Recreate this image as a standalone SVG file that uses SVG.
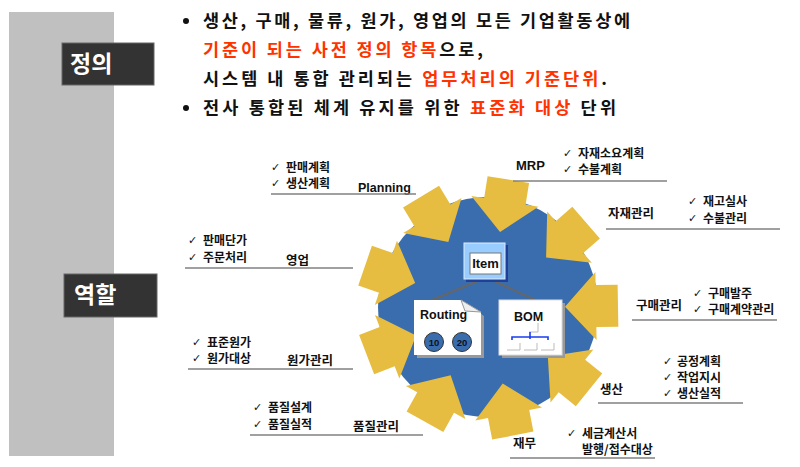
<svg xmlns="http://www.w3.org/2000/svg" xmlns:xlink="http://www.w3.org/1999/xlink" width="800" height="467" viewBox="0 0 800 467">
<style>
.k{font-family:"Noto Sans CJK KR","Noto Sans",sans-serif;font-weight:bold;fill:#111}
.top{font-size:17.5px}
.lbl{font-size:12.5px}
.li{font-size:12px}
.red{fill:#FF3300}
.en{font-family:"Liberation Sans",Arial,sans-serif;font-weight:bold;fill:#111}
.chk{font-family:"DejaVu Sans",sans-serif;font-size:11px;fill:#111}
.ul{stroke:#808080;stroke-width:1.5}
.arr{fill:#E6BD40}
.tag{fill:#333;stroke:#666;stroke-width:1}
.tagt{font-family:"Noto Sans CJK KR",sans-serif;font-weight:bold;font-size:23px;fill:#fff}
</style>
<defs>
<polygon id="arrow" points="130,-21 108,-21 108,-34 77,0 108,34 108,21 130,21"/>
</defs>
<rect width="800" height="467" fill="#fff"/>
<rect id="sidebar" x="9" y="12" width="105" height="444" fill="#C0C0C0"/>
<g id="tag-def"><rect class="tag" x="62" y="43" width="92" height="42"/><text class="tagt" x="70" y="72">정의</text></g>
<g id="tag-role"><rect class="tag" x="64" y="274" width="93" height="43"/><text class="tagt" x="74" y="303">역할</text></g>

<g id="definition">
<circle cx="186" cy="21" r="3" fill="#111"/>
<text class="k top" x="203" y="27" textLength="427" lengthAdjust="spacing">생산, 구매, 물류, 원가, 영업의 모든 기업활동상에</text>
<text class="k top" x="203" y="56" textLength="280" lengthAdjust="spacing"><tspan class="red">기준이 되는 사전 정의 항목</tspan>으로,</text>
<text class="k top" x="203" y="85" textLength="404" lengthAdjust="spacing">시스템 내 통합 관리되는 <tspan class="red">업무처리의 기준단위</tspan>.</text>
<circle cx="186" cy="108" r="3" fill="#111"/>
<text class="k top" x="203" y="114" textLength="413" lengthAdjust="spacing">전사 통합된 체계 유지를 위한 <tspan class="red">표준화 대상</tspan> 단위</text>
</g>

<g id="hub">
<circle cx="488" cy="307" r="110" fill="#3A6DAE"/>
<g transform="translate(488,308)">
<use class="arr" xlink:href="#arrow" href="#arrow" transform="rotate(-161)"/>
<use class="arr" xlink:href="#arrow" href="#arrow" transform="rotate(-121)"/>
<use class="arr" xlink:href="#arrow" href="#arrow" transform="rotate(-81)"/>
<use class="arr" xlink:href="#arrow" href="#arrow" transform="rotate(-41)"/>
<use class="arr" xlink:href="#arrow" href="#arrow" transform="rotate(-1)"/>
<use class="arr" xlink:href="#arrow" href="#arrow" transform="rotate(39)"/>
<use class="arr" xlink:href="#arrow" href="#arrow" transform="rotate(79)"/>
<use class="arr" xlink:href="#arrow" href="#arrow" transform="rotate(119)"/>
<use class="arr" xlink:href="#arrow" href="#arrow" transform="rotate(159)"/>
</g>
</g>

<g id="connectors">
<line x1="478" y1="281" x2="432" y2="300" stroke="#666" stroke-width="2"/>
<line x1="494" y1="281" x2="535" y2="300" stroke="#666" stroke-width="2"/>
</g>

<g id="item">
<rect x="466" y="245" width="42" height="37" fill="#1F3F99"/>
<rect x="464" y="243" width="41" height="36" fill="#99CCFF" stroke="#DDEEFF" stroke-width="1"/>
<rect x="470" y="253" width="31" height="21" fill="#fff" stroke="#777" stroke-width="1"/>
<text class="en" x="485.5" y="268" font-size="13" text-anchor="middle">Item</text>
</g>

<g id="routing">
<polygon points="417,303 465,303 484,316 484,358 417,358" fill="#999"/>
<polygon points="414,300 461,300 481,312 481,355 414,355" fill="#fff"/>
<polygon points="461,300 465,311 481,312" fill="#eee" stroke="#999" stroke-width="1"/>
<text class="en" x="420" y="319" font-size="12.5">Routing</text>
<circle cx="434" cy="342" r="9.5" fill="#3A6DAE" stroke="#333" stroke-width="1"/>
<circle cx="462" cy="342" r="9.5" fill="#3A6DAE" stroke="#333" stroke-width="1"/>
<text class="en" x="434" y="345.5" font-size="9.5" text-anchor="middle">10</text>
<text class="en" x="462" y="345.5" font-size="9.5" text-anchor="middle">20</text>
</g>

<g id="bom">
<rect x="502" y="303" width="63" height="55" fill="#999"/>
<rect x="499" y="300" width="63" height="55" fill="#fff" stroke="#ddd" stroke-width="1"/>
<text class="en" x="528.5" y="321" font-size="12.5" text-anchor="middle">BOM</text>
<polyline points="529,332 538,332 538,323" fill="none" stroke="#bbb" stroke-width="1"/>
<polyline points="512,340 512,337 548,337 548,340" fill="none" stroke="#1a3cf0" stroke-width="1.6"/>
<line x1="530" y1="332" x2="530" y2="339" stroke="#1a3cf0" stroke-width="1.6"/>
<polyline points="507,350 520,350 520,343" fill="none" stroke="#bbb" stroke-width="1"/>
<polyline points="524,350 537,350 537,343" fill="none" stroke="#bbb" stroke-width="1"/>
<polyline points="541,350 554,350 554,343" fill="none" stroke="#bbb" stroke-width="1"/>
</g>

<g id="planning">
<text class="chk" x="271" y="171">✓</text><text class="k li" x="286" y="172">판매계획</text>
<text class="chk" x="271" y="187">✓</text><text class="k li" x="286" y="188">생산계획</text>
<text class="en" x="358" y="192" font-size="12.5">Planning</text>
<line class="ul" x1="271" y1="194" x2="416" y2="194"/>
</g>

<g id="sales">
<text class="chk" x="188" y="244">✓</text><text class="k li" x="203" y="245">판매단가</text>
<text class="chk" x="188" y="261">✓</text><text class="k li" x="203" y="262">주문처리</text>
<text class="k lbl" x="286" y="265">영업</text>
<line class="ul" x1="185" y1="268" x2="353" y2="268"/>
</g>

<g id="cost">
<text class="chk" x="192" y="346">✓</text><text class="k li" x="207" y="347">표준원가</text>
<text class="chk" x="192" y="362">✓</text><text class="k li" x="207" y="363">원가대상</text>
<text class="k lbl" x="287" y="365">원가관리</text>
<line class="ul" x1="188" y1="369" x2="353" y2="369"/>
</g>

<g id="quality">
<text class="chk" x="253" y="411">✓</text><text class="k li" x="268" y="412">품질설계</text>
<text class="chk" x="253" y="428">✓</text><text class="k li" x="268" y="429">품질실적</text>
<text class="k lbl" x="353" y="431">품질관리</text>
<line class="ul" x1="250" y1="435" x2="423" y2="435"/>
</g>

<g id="mrp">
<text class="en" x="516" y="170" font-size="13">MRP</text>
<text class="chk" x="563" y="157">✓</text><text class="k li" x="578" y="158">자재소요계획</text>
<text class="chk" x="563" y="173">✓</text><text class="k li" x="578" y="174">수불계획</text>
<line class="ul" x1="513" y1="181" x2="667" y2="181"/>
</g>

<g id="material">
<text class="k lbl" x="608" y="218">자재관리</text>
<text class="chk" x="688" y="205">✓</text><text class="k li" x="703" y="206">재고실사</text>
<text class="chk" x="688" y="222">✓</text><text class="k li" x="703" y="223">수불관리</text>
<line class="ul" x1="606" y1="229" x2="780" y2="229"/>
</g>

<g id="purchase">
<text class="k lbl" x="636" y="310">구매관리</text>
<text class="chk" x="693" y="297">✓</text><text class="k li" x="708" y="298">구매발주</text>
<text class="chk" x="693" y="313">✓</text><text class="k li" x="708" y="314">구매계약관리</text>
<line class="ul" x1="632" y1="320" x2="777" y2="320"/>
</g>

<g id="production">
<text class="k lbl" x="600" y="394">생산</text>
<text class="chk" x="663" y="365">✓</text><text class="k li" x="677" y="366">공정계획</text>
<text class="chk" x="663" y="381">✓</text><text class="k li" x="677" y="382">작업지시</text>
<text class="chk" x="663" y="397">✓</text><text class="k li" x="677" y="398">생산실적</text>
<line class="ul" x1="598" y1="403" x2="743" y2="403"/>
</g>

<g id="finance">
<text class="k lbl" x="513" y="448">재무</text>
<text class="chk" x="567" y="437">✓</text><text class="k li" x="582" y="438">세금계산서</text>
<text class="k li" x="582" y="454">발행/접수대상</text>
<line class="ul" x1="510" y1="458" x2="655" y2="458"/>
</g>
</svg>
